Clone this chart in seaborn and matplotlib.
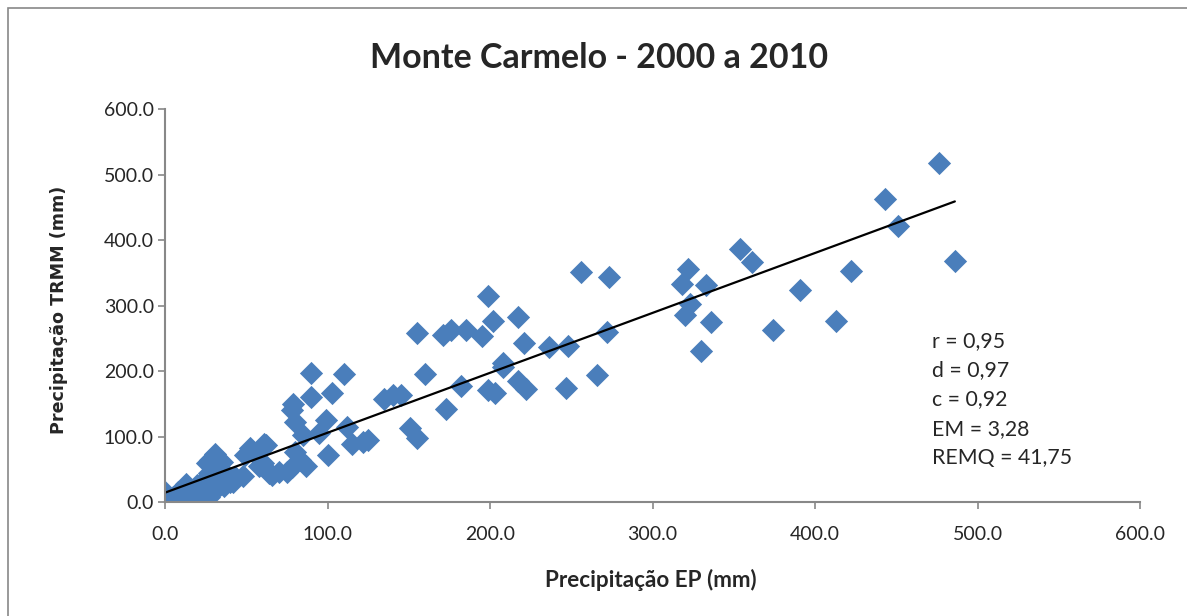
import matplotlib
matplotlib.use("Agg")
import matplotlib.pyplot as plt
from matplotlib.patches import Rectangle
import seaborn as sns
import pandas as pd

# monthly precipitation (mm): rain gauge (EP) vs TRMM
ep = [0, 0, 3, 6, 8, 10, 12, 13, 13, 16, 17, 19, 20, 23, 24, 24, 27, 27, 26, 28,
      30, 31, 32, 33, 34, 35, 36, 38, 40, 43, 48, 49, 52, 54, 58, 60, 61, 62, 64, 66,
      70, 75, 78, 80, 83, 87, 80, 78, 79, 85, 90, 90, 95, 99, 100, 103, 110, 112, 115, 122,
      125, 135, 140, 145, 151, 155, 155, 160, 171, 173, 176, 182, 185, 195, 199, 199, 203, 202, 208, 208,
      217, 217, 221, 222, 236, 247, 248, 256, 266, 272, 273, 318, 320, 322, 323, 330, 333, 336, 354, 361,
      374, 391, 413, 422, 443, 451, 476, 486,
      2, 5, 7, 9, 11, 14, 15, 18, 21, 22, 25, 29, 31, 36, 42]
trmm = [15, 0, 5, 0, 16, 3, 6, 23, 28, 12, 18, 11, 26, 29, 16, 34, 8, 44, 59, 64,
        20, 74, 65, 64, 26, 61, 46, 35, 31, 38, 39, 72, 82, 77, 55, 59, 89, 87, 44, 42,
        46, 46, 54, 77, 64, 55, 122, 140, 150, 103, 160, 197, 105, 125, 72, 166, 196, 115, 89, 92,
        95, 157, 163, 163, 113, 98, 258, 195, 255, 142, 262, 177, 263, 253, 314, 171, 166, 276, 212, 206,
        282, 185, 243, 173, 236, 174, 238, 351, 194, 260, 343, 333, 286, 356, 302, 231, 331, 275, 386, 366,
        262, 324, 277, 352, 463, 421, 518, 368,
        2, 8, 4, 10, 2, 8, 14, 5, 14, 9, 20, 15, 25, 24, 30]

stats = ["r = 0,95", "d = 0,97", "c = 0,92", "EM = 3,28", "REMQ = 41,75"]

df = pd.DataFrame({"EP": ep, "TRMM": trmm})

sns.set_style("white")
plt.rcParams['font.family'] = ['Lato', 'DejaVu Sans']

fig = plt.figure(figsize=(11.87, 6.16), dpi=100)
ax = fig.add_axes([0.139, 0.185, 0.8215, 0.638])

sns.regplot(data=df, x="EP", y="TRMM", ax=ax, ci=None,
            marker="D",
            scatter_kws={"s": 140, "color": "#4A7EBB", "alpha": 1, "linewidths": 0},
            line_kws={"color": "black", "linewidth": 1.6})

ax.set_xlim(0, 600)
ax.set_ylim(0, 600)
ax.set_xticks(range(0, 601, 100))
ax.set_yticks(range(0, 601, 100))
ax.set_xticklabels([f"{v:.1f}" for v in range(0, 601, 100)])
ax.set_yticklabels([f"{v:.1f}" for v in range(0, 601, 100)])
ax.tick_params(axis="both", labelsize=14, length=5, width=1.2, color="#888888",
               direction="out", left=True, bottom=True)
ax.tick_params(axis="x", pad=12)
ax.tick_params(axis="y", pad=3)
for s in ["top", "right"]:
    ax.spines[s].set_visible(False)
for s in ["left", "bottom"]:
    ax.spines[s].set_color("#888888")
    ax.spines[s].set_linewidth(1.5)

ax.set_xlabel("Precipitação EP (mm)", fontsize=16.2, fontweight="bold")
ax.xaxis.set_label_coords(0.498, -0.17)
ax.set_ylabel("Precipitação TRMM (mm)", fontsize=12.6, fontweight="bold",
              family="DejaVu Sans")
ax.yaxis.set_label_coords(-0.0995, 0.488)
fig.suptitle("Monte Carmelo - 2000 a 2010", fontsize=24.5, fontweight="bold",
             x=0.505, y=0.932, va="top")

for i, t in enumerate(stats):
    ax.text(0.787, 0.41 - i * 0.0745, t, transform=ax.transAxes, fontsize=15.3,
            va="center", ha="left")

fig.add_artist(Rectangle((0.007, -0.01), 1.0, 0.997, transform=fig.transFigure,
                         fill=False, edgecolor="#888888", linewidth=1.2))

fig.savefig("out.png", dpi=100)
